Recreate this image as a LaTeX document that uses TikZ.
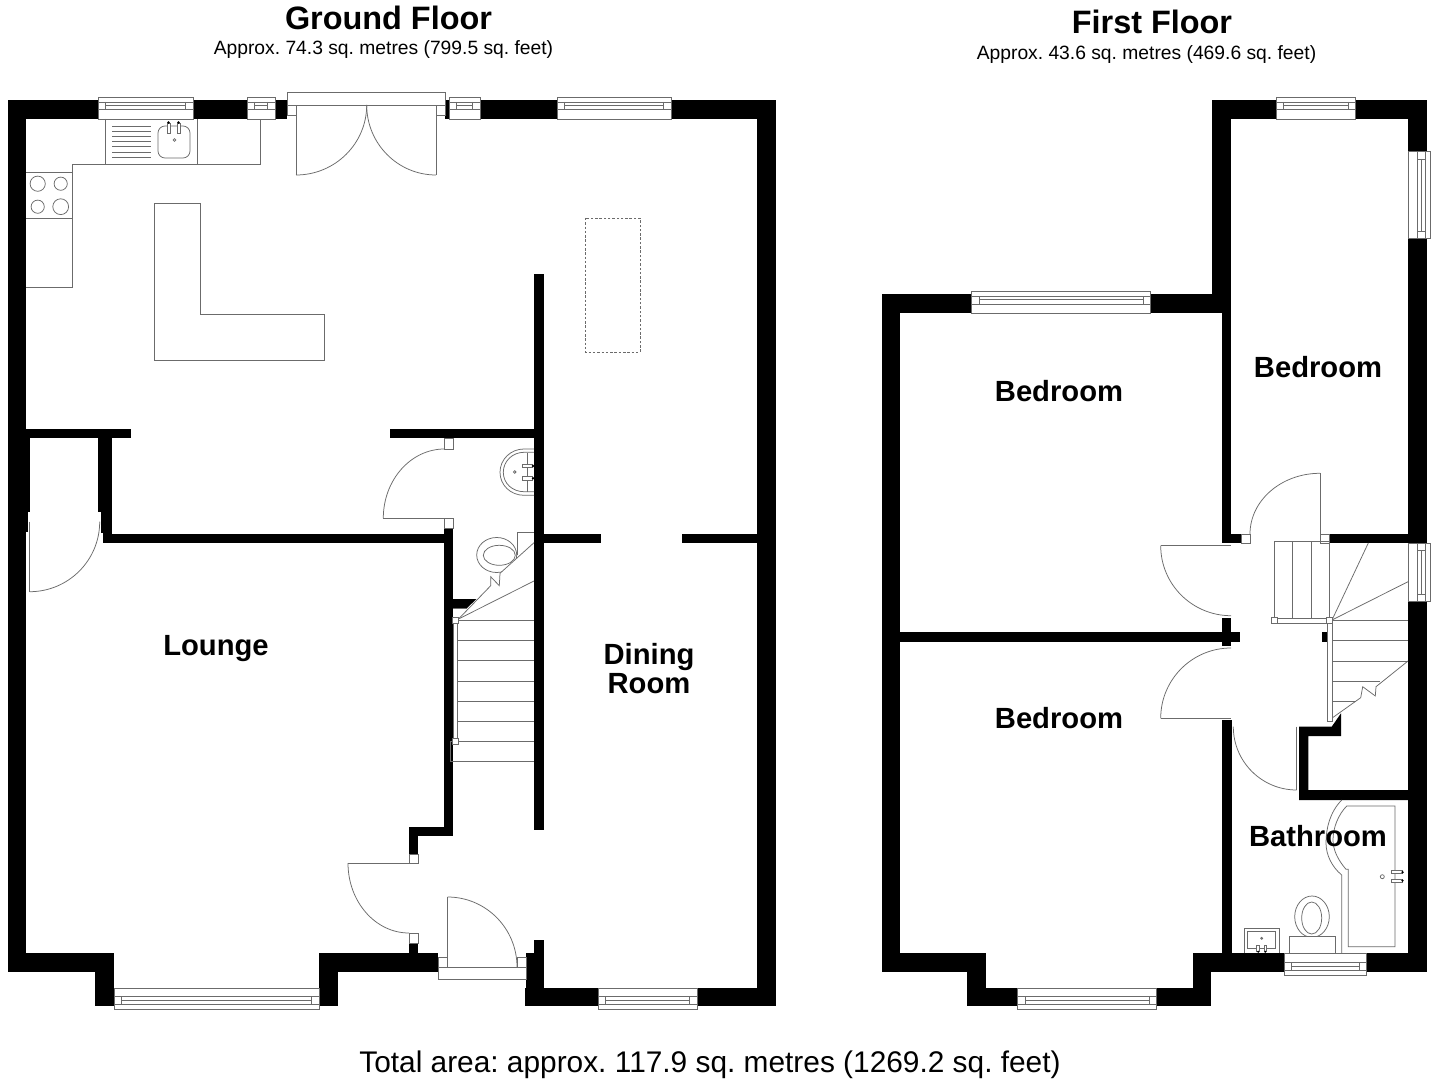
\documentclass[tikz,border=0pt]{standalone}
\usepackage{fontspec}
\setmainfont{Liberation Sans}
\usetikzlibrary{calc}
\tikzset{
  wall/.style={fill=black,draw=none},
  fp/.style={draw=black!58,line width=0.75pt,line join=miter},
  fpw/.style={fp,fill=white},
  roomlabel/.style={anchor=base,inner sep=0pt,font=\fontsize{29.2}{32}\selectfont\bfseries},
  floortitle/.style={anchor=base,inner sep=0pt,font=\fontsize{32.4}{36}\selectfont\bfseries},
  floorsub/.style={anchor=base,inner sep=0pt,font=\fontsize{19.26}{24}\selectfont\frenchspacing},
  totalarea/.style={anchor=base,inner sep=0pt,font=\fontsize{29.85}{32}\selectfont\frenchspacing}
}
% quarter-circle door swing: start, end, corner
\newcommand\qarc[3]{\draw[fp] (#1) .. controls ($(#1)!0.5523!(#3)$) and ($(#2)!0.5523!(#3)$) .. (#2);}
% horizontal window: x1, x2, y outer, y inner
\newcommand\hwin[4]{%
  \pgfmathsetmacro\ws{(#4>#3)?1:-1}%
  \pgfmathsetmacro\wa{#3+\ws*5}\pgfmathsetmacro\wb{#3+\ws*12.7}\pgfmathsetmacro\wc{#3+\ws*8.5}%
  \pgfmathsetmacro\wl{#1+7.3}\pgfmathsetmacro\wr{#2-7.3}%
  \draw[fpw] (#1,#3) rectangle (#2,#4);
  \draw[fp] (#1,\wa) -- (#2,\wa) (#1,\wb) -- (#2,\wb) (\wl,\wa) -- (\wl,\wb) (\wr,\wa) -- (\wr,\wb) (\wl,\wc) -- (\wr,\wc);
}
% vertical window: y1, y2, x outer, x inner
\newcommand\vwin[4]{%
  \pgfmathsetmacro\ws{(#4>#3)?1:-1}%
  \pgfmathsetmacro\wa{#3+\ws*5}\pgfmathsetmacro\wb{#3+\ws*12.7}\pgfmathsetmacro\wc{#3+\ws*8.5}%
  \pgfmathsetmacro\wl{#1+7.3}\pgfmathsetmacro\wr{#2-7.3}%
  \draw[fpw] (#3,#1) rectangle (#4,#2);
  \draw[fp] (\wa,#1) -- (\wa,#2) (\wb,#1) -- (\wb,#2) (\wa,\wl) -- (\wb,\wl) (\wa,\wr) -- (\wb,\wr) (\wc,\wl) -- (\wc,\wr);
}
\begin{document}
\begin{tikzpicture}[x=1pt,y=-1pt]
\useasboundingbox (0,0) rectangle (1438,1083);
\fill[white] (0,0) rectangle (1438,1083);

%% ---------- GROUND FLOOR walls ----------
\foreach \a/\b/\c/\d in {
 8/100/98/119, 193/100/247/119, 275/100/287/119, 445/100/449/119, 480/100/557/119, 671/100/776/119,
 757/100/776/1006, 8/100/26/972, 26/429/131/438, 8/429/30/512, 8/512/28/532,
 98/438/112/512, 101/512/112/533, 103/533/112/543, 103/534/453/543,
 444/528/453/836, 409/827/453/836, 409/827/418/854, 409/943/418/953,
 8/953/114/972, 95/953/114/1006, 319/953/338/1006, 319/953/438/972,
 534/274/544/830, 390/429/534/438, 544/534/601/543, 682/534/757/543,
 534/940/544/1006, 526/953/534/1006, 525/988/598/1006, 697/988/776/1006}
 {\fill[wall] (\a,\b) rectangle (\c,\d);}
\fill[wall] (453,599) -- (476.5,599) -- (467,608) -- (453,608) -- cycle;

%% windows
\hwin{98}{193}{97}{119}
\hwin{247}{275}{97}{119}
\hwin{449}{480}{97}{119}
\hwin{557}{671}{97}{119}
\hwin{114}{319}{1009}{988}
\hwin{598}{697}{1009}{988}

%% patio doors
\draw[fpw] (287,92) rectangle (445,105);
\draw[fpw] (287,105) rectangle (296,115);
\draw[fpw] (436,105) rectangle (445,115);
\draw[fp] (296,175) -- (296,105) -- (436,105) -- (436,175);
\qarc{296,175}{366.7,105}{366.7,175}
\qarc{436,175}{366.7,105}{366.7,175}

%% kitchen
\draw[fp] (26,287) -- (72,287) -- (72,164) -- (260,164) -- (260,119);
\draw[fp] (105,119) -- (105,164) (197,119) -- (197,164);
\draw[fp] (26,172) -- (72,172) (26,218) -- (72,218);
\draw[fp] (37.7,183.7) circle [radius=7.6];
\draw[fp] (60.7,183.7) circle [radius=6.6];
\draw[fp] (37.7,206.7) circle [radius=6.6];
\draw[fp] (60.7,206.7) circle [radius=7.9];
\foreach \y in {126,131.2,136.4,141.6,146.8,152,157} {\draw[fp] (112,\y) -- (151,\y);}
\draw[fp,rounded corners=7pt] (158,126) rectangle (190,158);
\draw[fpw] (167.5,123) rectangle (170.5,133);
\draw[fpw] (177.5,123) rectangle (180.5,133);
\fill[black] (168.5,122.5) circle [radius=1.4] (178.5,122.5) circle [radius=1.4];
\draw[fp] (174.5,140) circle [radius=1.3];
\draw[fp] (154,203) -- (200,203) -- (200,314) -- (324,314) -- (324,360) -- (154,360) -- cycle;
\draw[fp,dashed,dash pattern=on 2.5pt off 1.8pt] (585,218) rectangle (640,352);

%% closet door
\draw[fp] (29.7,521.7) -- (29.7,591.7);
\qarc{29.7,591.7}{99.7,521.7}{99.7,591.7}

%% WC door
\draw[fpw] (444.5,438) rectangle (453.5,449);
\draw[fpw] (444.5,518.3) rectangle (453.5,528);
\draw[fp] (383.3,518.3) -- (444.5,518.3);
\qarc{444.5,449}{383.3,518.3}{383.3,449}

%% lounge door
\draw[fpw] (409,854) rectangle (418,863);
\draw[fpw] (409,933) rectangle (418,943);
\draw[fp] (348,863) -- (409,863);
\qarc{348,863}{409,933}{348,933}

%% entrance door
\draw[fpw] (438,957) rectangle (447.5,967);
\draw[fpw] (517,957) rectangle (526.5,967);
\draw[fpw] (438,967) rectangle (526.5,979);
\draw[fp] (447.5,967) -- (447.5,897);
\qarc{447.5,897}{517,967}{517,897}

%% cloakroom basin
\draw[fp] (534,449) -- (524,449) .. controls (510.7,449) and (500,459.4) .. (500,472.3) .. controls (500,485.2) and (510.7,495.3) .. (524,495.3) -- (534,495.3);
\draw[fp] (534,452.3) -- (524,452.3) .. controls (512.5,452.3) and (503.3,461.2) .. (503.3,472.3) .. controls (503.3,483.4) and (512.5,491.7) .. (524,491.7) -- (534,491.7);
\draw[fp] (527.7,453) -- (527.7,491.7);
\draw[fpw] (522,464.3) rectangle (532.5,467.7);
\draw[fpw] (522,476.7) rectangle (532.5,480);
\fill[black] (533,466) circle [radius=1.3] (533,478.3) circle [radius=1.3];
\draw[fp] (514.7,472) circle [radius=1.3];

%% cloakroom WC
\begin{scope}
\clip (470,525) -- (534,525) -- (534,542.7) -- (500,573.3) -- (490.7,585) -- (470,590) -- cycle;
\draw[fp] (496.7,555) ellipse [x radius=20,y radius=17.5];
\draw[fp] (499.3,555.3) ellipse [x radius=16,y radius=10];
\end{scope}
\draw[fp] (517.3,555) -- (517.3,532.3) -- (534,532.3);

%% ground-floor stairs
\foreach \y in {620,640,660,681,701,721.7} {\draw[fp] (457,\y) -- (534,\y);}
\draw[fp] (450,741.7) -- (534,741.7) (450,761.7) -- (534,761.7) (450,741.7) -- (450,761.7);
\draw[fp] (453.5,623) -- (453.5,738) (457.5,623) -- (457.5,738);
\draw[fp] (458.5,619) -- (534,581);
\draw[fp] (458.5,619) -- (490.7,585.7) -- (490.7,576.7) -- (499.3,585.7) -- (500,573.3) -- (534,542.7);
\draw[fp] (453,608) -- (467,608);
\draw[fpw] (452.7,617) rectangle (458.7,623);
\draw[fpw] (452.7,738) rectangle (458.7,744.5);

%% ---------- FIRST FLOOR walls ----------
\foreach \a/\b/\c/\d in {
 881.7/294.3/971.7/313, 1150.7/294.3/1231.3/313, 881.7/294.3/900.3/972.3,
 900.3/953.3/967.3/972.3, 967.3/953.3/986.3/1006.3, 986.3/988/1017.7/1006.3,
 1156.7/988/1211.3/1006.3, 1192.7/953.3/1211.3/1006.3, 1211.3/953.3/1284/972.3,
 1366.7/953.3/1426.7/972.3, 1212.3/100/1231.3/294.3, 1212.3/100/1276.3/119,
 1355.3/100/1426.7/119, 1408/100/1426.7/151.7, 1408/238.3/1426.7/543.3, 1408/601.7/1426.7/972.3,
 1221.7/290/1231.3/543.3, 1221.7/534/1241/543.3, 1329/534/1408/543.3, 1221.7/617.7/1231/646,
 900/632.3/1240/642, 1322.3/632.3/1327.3/642, 1221.7/720/1231.7/953.3}
 {\fill[wall] (\a,\b) rectangle (\c,\d);}
\fill[wall] (1299,726.7) -- (1331.7,726.7) -- (1341,713.3) -- (1341,736) -- (1308.3,736) -- (1308.3,790) -- (1408,790) -- (1408,800) -- (1299,800) -- cycle;

%% first-floor windows
\hwin{971.7}{1150.7}{291.3}{313}
\hwin{1276.3}{1355.3}{97}{119}
\vwin{151.7}{238.3}{1430}{1408}
\vwin{543.3}{601.7}{1430}{1408}
\hwin{1017.7}{1156.7}{1009.3}{988}
\hwin{1284}{1366.7}{975}{953.3}

%% first-floor doors
\draw[fpw] (1241,534) rectangle (1250,543.3);
\draw[fpw] (1320,534) rectangle (1329,543.3);
\draw[fp] (1320,534) -- (1320,473.3);
\qarc{1250,534}{1320,473.3}{1250,473.3}
\draw[fp] (1160.7,545.7) -- (1231,545.7);
\qarc{1160.7,545.7}{1231,615.7}{1160.7,615.7}
\draw[fp] (1160.7,718.3) -- (1231,718.3);
\qarc{1231,648}{1160.7,718.3}{1160.7,648}
\draw[fp] (1296.7,726.7) -- (1296.7,790);
\qarc{1233.3,726.7}{1296.7,790}{1233.3,790}

%% first-floor stairs
\draw[fp] (1274.3,618) -- (1274.3,541.7) -- (1329.3,541.7) -- (1329.3,618);
\draw[fp] (1292.7,541.7) -- (1292.7,618) (1311.3,541.7) -- (1311.3,618);
\draw[fp] (1332,620) -- (1368.3,543);
\draw[fp] (1332,620) -- (1408,581.7);
\foreach \y in {620.7,640.7,661} {\draw[fp] (1332,\y) -- (1408,\y);}
\draw[fp] (1332,681) -- (1380,681) (1332,701) -- (1356,701);
\draw[fp] (1408,661) -- (1376,686.7) -- (1375.3,696) -- (1362.7,686.7) -- (1360.7,697.7) -- (1331.7,718.3);
\draw[fpw] (1277,618.3) rectangle (1326,623.3);
\draw[fpw] (1327,623) rectangle (1332,721.7);
\draw[fpw] (1271.7,617.7) rectangle (1277.7,623.7);
\draw[fpw] (1326.3,617.7) rectangle (1332.3,623.7);

%% bath
\draw[fp] (1341.7,800) .. controls (1330,812) and (1326,828) .. (1326,843) .. controls (1326,855) and (1332,867) .. (1341.7,875) -- (1341.7,953.3);
\draw[fp] (1346.7,806) -- (1395,806) -- (1395,946.7) -- (1348.3,946.7) -- (1348.3,869.3) -- (1346,869.3) .. controls (1338,860) and (1333,850) .. (1333,840) .. controls (1333,828) and (1338,815) .. (1346.7,806);
\draw[fpw] (1391.3,870.7) rectangle (1402,873.7);
\draw[fpw] (1391.3,879) rectangle (1402,882.3);
\fill[black] (1402.5,872.2) circle [radius=1.3] (1402.5,880.6) circle [radius=1.3];
\draw[fp] (1382.3,876.7) circle [radius=2];

%% bathroom WC
\begin{scope}
\clip (1280,880) rectangle (1345,936.7);
\draw[fp] (1312,916.7) ellipse [x radius=17.3,y radius=20.7];
\draw[fp] (1311.7,918) ellipse [x radius=10,y radius=16];
\end{scope}
\draw[fp] (1289,953.3) -- (1289,936.7) -- (1335,936.7) -- (1335,953.3);

%% bathroom basin
\draw[fp] (1244.3,953.3) -- (1244.3,928.3) -- (1279,928.3) -- (1279,953.3);
\draw[fp] (1247.3,931.7) rectangle (1275.7,948.3);
\draw[fpw] (1256.7,945) rectangle (1259.7,951);
\draw[fpw] (1264,945) rectangle (1266.7,951);
\fill[black] (1258.2,951.8) circle [radius=1.1] (1265.3,951.8) circle [radius=1.1];
\draw[fp] (1261.7,938.3) circle [radius=1];

%% ---------- TEXT ----------
\node[floortitle] (gftitle) at (388.5,29.5) {Ground Floor};
\node[floorsub] (gfsub) at (383.5,55) {Approx. 74.3 sq. metres (799.5 sq. feet)};
\node[floortitle] (fftitle) at (1152,34) {First Floor};
\node[floorsub] (ffsub) at (1146.5,59.5) {Approx. 43.6 sq. metres (469.6 sq. feet)};
\node[roomlabel] (lounge) at (216,655) {Lounge};
\node[roomlabel] (dining) at (649,664) {Dining};
\node[roomlabel] (room) at (649,693) {Room};
\node[roomlabel] (bedone) at (1059,401) {Bedroom};
\node[roomlabel] (bedtwo) at (1318,377.5) {Bedroom};
\node[roomlabel] (bedthree) at (1059,728.5) {Bedroom};
\node[roomlabel] (bathroom) at (1318,846) {Bathroom};
\node[totalarea] (total) at (710,1072.5) {Total area: approx. 117.9 sq. metres (1269.2 sq. feet)};
\end{tikzpicture}
\end{document}
